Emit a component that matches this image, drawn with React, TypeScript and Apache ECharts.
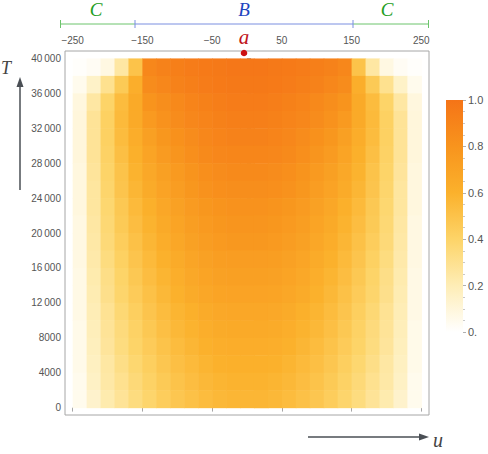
import React, { useEffect, useRef } from 'react';
import * as echarts from 'echarts';

// u cell centres (each cell 20 wide), T cell centres (each cell 2000 tall)
const uCenters = [-240, -220, -200, -180, -160, -140, -120, -100, -80, -60, -40, -20, 0, 20, 40, 60, 80, 100, 120, 140, 160, 180, 200, 220, 240];
const tCenters = [39000, 37000, 35000, 33000, 31000, 29000, 27000, 25000, 23000, 21000, 19000, 17000, 15000, 13000, 11000, 9000, 7000, 5000, 3000, 1000];

// density values, one row per T centre
const row39000 = [.01, .03, .08, .25, .50, .88, .91, .93, .95, .96, .97, .98, .98, .98, .97, .96, .95, .93, .91, .88, .50, .25, .08, .03, .01];
const row37000 = [.05, .15, .30, .46, .62, .85, .88, .91, .93, .95, .96, .97, .97, .97, .96, .95, .93, .91, .88, .85, .62, .46, .30, .15, .05];
const row35000 = [.09, .25, .40, .54, .65, .80, .84, .87, .90, .92, .94, .95, .95, .95, .94, .92, .90, .87, .84, .80, .65, .54, .40, .25, .09];
const row33000 = [.10, .28, .42, .55, .65, .76, .81, .85, .88, .90, .92, .93, .93, .93, .92, .90, .88, .85, .81, .76, .65, .55, .42, .28, .10];
const row31000 = [.10, .28, .42, .54, .63, .72, .78, .82, .85, .88, .90, .91, .91, .91, .90, .88, .85, .82, .78, .72, .63, .54, .42, .28, .10];
const row29000 = [.10, .28, .41, .52, .61, .69, .75, .79, .83, .86, .88, .89, .89, .89, .88, .86, .83, .79, .75, .69, .61, .52, .41, .28, .10];
const row27000 = [.09, .27, .40, .50, .59, .66, .72, .76, .80, .83, .85, .86, .86, .86, .85, .83, .80, .76, .72, .66, .59, .50, .40, .27, .09];
const row25000 = [.09, .26, .39, .49, .57, .64, .70, .74, .78, .81, .83, .84, .84, .84, .83, .81, .78, .74, .70, .64, .57, .49, .39, .26, .09];
const row23000 = [.09, .26, .38, .47, .55, .61, .67, .71, .75, .78, .80, .81, .81, .81, .80, .78, .75, .71, .67, .61, .55, .47, .38, .26, .09];
const row21000 = [.08, .25, .37, .46, .53, .59, .65, .69, .73, .76, .78, .79, .79, .79, .78, .76, .73, .69, .65, .59, .53, .46, .37, .25, .08];
const row19000 = [.08, .24, .36, .44, .51, .57, .63, .67, .71, .74, .76, .77, .77, .77, .76, .74, .71, .67, .63, .57, .51, .44, .36, .24, .08];
const row17000 = [.08, .23, .34, .42, .49, .55, .60, .64, .68, .71, .73, .74, .74, .74, .73, .71, .68, .64, .60, .55, .49, .42, .34, .23, .08];
const row15000 = [.07, .22, .32, .40, .47, .53, .58, .62, .66, .69, .71, .72, .72, .72, .71, .69, .66, .62, .58, .53, .47, .40, .32, .22, .07];
const row13000 = [.07, .21, .31, .39, .45, .51, .56, .60, .64, .67, .69, .70, .70, .70, .69, .67, .64, .60, .56, .51, .45, .39, .31, .21, .07];
const row11000 = [.07, .20, .29, .37, .43, .49, .54, .58, .61, .64, .66, .67, .67, .67, .66, .64, .61, .58, .54, .49, .43, .37, .29, .20, .07];
const row9000 = [.06, .19, .28, .35, .41, .47, .52, .56, .59, .62, .64, .65, .65, .65, .64, .62, .59, .56, .52, .47, .41, .35, .28, .19, .06];
const row7000 = [.06, .18, .27, .34, .40, .45, .50, .54, .57, .60, .62, .63, .63, .63, .62, .60, .57, .54, .50, .45, .40, .34, .27, .18, .06];
const row5000 = [.06, .17, .25, .32, .38, .43, .48, .52, .55, .58, .60, .61, .61, .61, .60, .58, .55, .52, .48, .43, .38, .32, .25, .17, .06];
const row3000 = [.05, .16, .24, .30, .36, .41, .46, .50, .53, .56, .58, .59, .59, .59, .58, .56, .53, .50, .46, .41, .36, .30, .24, .16, .05];
const row1000 = [.05, .14, .22, .28, .34, .39, .44, .48, .51, .54, .56, .57, .57, .57, .56, .54, .51, .48, .44, .39, .34, .28, .22, .14, .05];

const rows = [row39000, row37000, row35000, row33000, row31000, row29000, row27000, row25000, row23000, row21000,
  row19000, row17000, row15000, row13000, row11000, row9000, row7000, row5000, row3000, row1000];

const xTickValues = [-250, -150, -50, 50, 150, 250];
const yTickValues = [0, 4000, 8000, 12000, 16000, 20000, 24000, 28000, 32000, 36000, 40000];
const colorbarMax = [1];

const palette = ['#FFFFFF', '#FEEDB6', '#FDD468', '#FBB12C', '#F8941D', '#F57417'];

const CELL_HALF_U = 10;
const CELL_HALF_T = 1000;

const fmtY = (v: number) => {
  if (v >= 10000) {
    const s = String(v);
    return s.slice(0, s.length - 3) + '\u2009' + s.slice(s.length - 3);
  }
  return String(v);
};
const fmtX = (v: number) => (v < 0 ? '\u2212' + String(-v) : String(v));

export default function App() {
  const ref = useRef<HTMLDivElement>(null);
  useEffect(() => {
    if (!ref.current) return;
    const chart = echarts.init(ref.current, undefined, { renderer: 'svg' });

    const data: number[][] = [];
    rows.forEach((r, i) => r.forEach((v, j) => data.push([uCenters[j], tCenters[i], v])));

    const labelStyle = { color: '#555', fontSize: 10, fontFamily: 'Liberation Sans, Arial, sans-serif' };
    const serif = '"Liberation Serif", "DejaVu Serif", serif';
    const arrowColor = '#4a4f55';
    const greenLine = '#6cc46c';
    const blueLine = '#7b8fe0';

    const stops = palette.map((c, i) => ({ offset: i / (palette.length - 1), color: c }));

    chart.setOption({
      animation: false,
      backgroundColor: '#fff',
      grid: [
        { left: 65, top: 51, width: 364, height: 364, show: true, borderColor: '#a6a6a6', borderWidth: 1, backgroundColor: 'transparent' },
        { left: 446, top: 100, width: 17, height: 232, show: false },
      ],
      xAxis: [
        {
          gridIndex: 0, type: 'value', position: 'top', min: -261, max: 261,
          axisLine: { show: false },
          splitLine: { show: false },
          axisTick: { show: true, inside: true, length: 4, customValues: xTickValues, lineStyle: { color: '#a6a6a6' } },
          axisLabel: { ...labelStyle, margin: 6, customValues: xTickValues, formatter: (v: number) => fmtX(v) },
        },
        { gridIndex: 1, type: 'category', data: ['c'], show: false },
      ],
      yAxis: [
        {
          gridIndex: 0, type: 'value', min: -850, max: 40850,
          axisLine: { show: false },
          splitLine: { show: false },
          axisTick: { show: true, inside: true, length: 4, customValues: yTickValues, lineStyle: { color: '#a6a6a6' } },
          axisLabel: { ...labelStyle, margin: 4, customValues: yTickValues, formatter: (v: number) => fmtY(v) },
        },
        {
          gridIndex: 1, type: 'value', position: 'right', min: 0, max: 1, interval: 0.2,
          axisLine: { show: false },
          splitLine: { show: false },
          axisTick: { show: true, length: 3, lineStyle: { color: '#b0b0b0' } },
          minorTick: { show: true, splitNumber: 4, length: 2, lineStyle: { color: '#c8c8c8' } },
          axisLabel: { ...labelStyle, fontSize: 11, margin: 5, formatter: (v: number) => (v === 0 ? '0.' : v.toFixed(1)) },
        },
      ],
      visualMap: {
        show: false, type: 'continuous', min: 0, max: 1, dimension: 2, seriesIndex: 0,
        inRange: { color: palette },
      },
      series: [
        {
          type: 'custom',
          xAxisIndex: 0, yAxisIndex: 0,
          encode: { x: 0, y: 1 },
          data,
          renderItem: (params: any, api: any) => {
            const u = api.value(0);
            const t = api.value(1);
            const p0 = api.coord([u - CELL_HALF_U, t + CELL_HALF_T]);
            const p1 = api.coord([u + CELL_HALF_U, t - CELL_HALF_T]);
            return {
              type: 'rect',
              shape: { x: p0[0], y: p0[1], width: p1[0] - p0[0] + 0.6, height: p1[1] - p0[1] + 0.6 },
              style: { fill: api.visual('color'), stroke: null },
            };
          },
        },
        {
          type: 'bar', xAxisIndex: 1, yAxisIndex: 1, data: colorbarMax, barWidth: '100%',
          itemStyle: { color: new echarts.graphic.LinearGradient(0, 1, 0, 0, stops) },
          silent: true,
        },
      ],
      graphic: [
        { type: 'line', shape: { x1: 60, y1: 24, x2: 135, y2: 24 }, style: { stroke: greenLine, lineWidth: 1 } },
        { type: 'line', shape: { x1: 353, y1: 24, x2: 429, y2: 24 }, style: { stroke: greenLine, lineWidth: 1 } },
        { type: 'line', shape: { x1: 135, y1: 24, x2: 353, y2: 24 }, style: { stroke: blueLine, lineWidth: 1 } },
        { type: 'line', shape: { x1: 60.5, y1: 20, x2: 60.5, y2: 28 }, style: { stroke: greenLine, lineWidth: 1 } },
        { type: 'line', shape: { x1: 428.5, y1: 20, x2: 428.5, y2: 28 }, style: { stroke: greenLine, lineWidth: 1 } },
        { type: 'line', shape: { x1: 135, y1: 20, x2: 135, y2: 28 }, style: { stroke: blueLine, lineWidth: 1 } },
        { type: 'line', shape: { x1: 353, y1: 20, x2: 353, y2: 28 }, style: { stroke: blueLine, lineWidth: 1 } },
        { type: 'text', x: 96, y: 9, style: { text: 'C', fill: '#1e9e1e', font: 'italic 19px ' + serif, align: 'center', verticalAlign: 'middle' } },
        { type: 'text', x: 387, y: 9, style: { text: 'C', fill: '#1e9e1e', font: 'italic 19px ' + serif, align: 'center', verticalAlign: 'middle' } },
        { type: 'text', x: 244, y: 9, style: { text: 'B', fill: '#1f45c0', font: 'italic 19px ' + serif, align: 'center', verticalAlign: 'middle' } },
        { type: 'text', x: 244, y: 37, style: { text: 'a', fill: '#c0141a', font: 'italic 21px ' + serif, align: 'center', verticalAlign: 'middle' } },
        { type: 'circle', shape: { cx: 244, cy: 53, r: 3.3 }, style: { fill: '#cc1111' } },
        { type: 'text', x: 6, y: 68, style: { text: 'T', fill: '#444', font: 'italic 18px ' + serif, align: 'center', verticalAlign: 'middle' } },
        { type: 'line', shape: { x1: 20, y1: 190, x2: 20, y2: 84 }, style: { stroke: arrowColor, lineWidth: 1.5 } },
        { type: 'polygon', shape: { points: [[20, 77], [16.5, 87], [23.5, 87]] }, style: { fill: arrowColor } },
        { type: 'line', shape: { x1: 308, y1: 437, x2: 422, y2: 437 }, style: { stroke: arrowColor, lineWidth: 1.5 } },
        { type: 'polygon', shape: { points: [[429, 437], [419, 433.5], [419, 440.5]] }, style: { fill: arrowColor } },
        { type: 'text', x: 438, y: 440, style: { text: 'u', fill: '#444', font: 'italic 20px ' + serif, align: 'center', verticalAlign: 'middle' } },
      ],
    });
    return () => chart.dispose();
  }, []);
  return <div ref={ref} style={{ position: 'fixed', left: 0, top: 0, width: 488, height: 454 }} />;
}
